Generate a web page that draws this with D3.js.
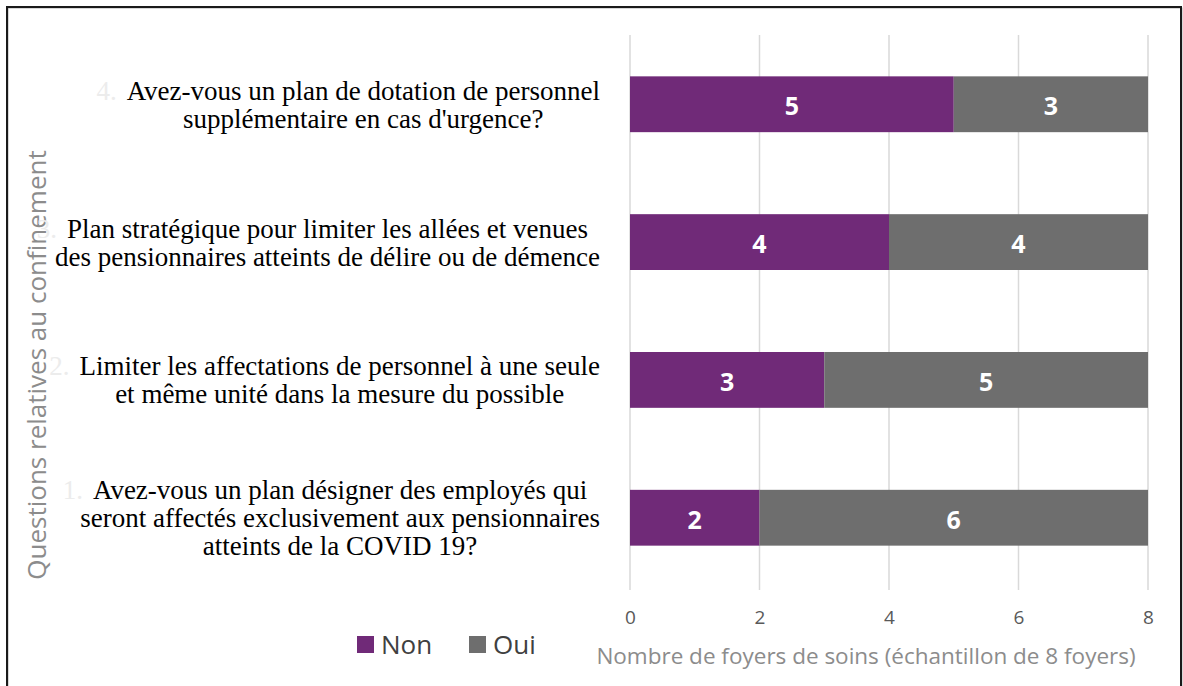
<!DOCTYPE html>
<html>
<head>
<meta charset="utf-8">
<script src="https://cdn.jsdelivr.net/npm/d3@7"></script>
<style>
	body { margin: 0; background: #fff; }
	svg { display: block; }
</style>
</head>
<body>
<div id="chart"></div>
<script>
// chart data, top to bottom
let questions = [
	["Avez-vous un plan de dotation de personnel", "supplémentaire en cas d'urgence?"],
	["Plan stratégique pour limiter les allées et venues", "des pensionnaires atteints de délire ou de démence"],
	["Limiter les affectations de personnel à une seule", "et même unité dans la mesure du possible"],
	["Avez-vous un plan désigner des employés qui", "seront affectés exclusivement aux pensionnaires", "atteints de la COVID 19?"]
];
let questionNums = ["4.", "3.", "2.", "1."];
let nonValues = [5, 4, 3, 2];
let ouiValues = [3, 4, 5, 6];
let seriesNames = ["Non", "Oui"];
let seriesColors = ["#702a78", "#6e6e6e"];
let xTicks = [0, 2, 4, 6, 8];

let W = 1183, H = 686;

let svg = d3.select("#chart").append("svg")
	.attr("width", W)
	.attr("height", H);

// frame
svg.append("rect")
	.attr("x", 8).attr("y", 8)
	.attr("width", 1174).attr("height", 700)
	.attr("fill", "none")
	.attr("stroke", "#b0b0b0")
	.attr("stroke-width", 1);
svg.append("rect")
	.attr("x", 7).attr("y", 7)
	.attr("width", 1174).attr("height", 700)
	.attr("fill", "none")
	.attr("stroke", "#1a1a1a")
	.attr("stroke-width", 2);

let plot = {left: 630, right: 1148, top: 35, bottom: 590};

let xScale = d3.scaleLinear()
	.domain([0, 8])
	.range([plot.left, plot.right]);

let yScale = d3.scaleBand()
	.domain(d3.range(questions.length))
	.range([35, 587])
	.paddingInner(0.595)
	.paddingOuter(0.3);

// grid lines
svg.append("g")
	.selectAll("line")
	.data(xTicks)
	.enter()
	.append("line")
	.attr("x1", d => xScale(d))
	.attr("x2", d => xScale(d))
	.attr("y1", plot.top)
	.attr("y2", plot.bottom)
	.attr("stroke", "#d9d9d9")
	.attr("stroke-width", 1.5);

// stacked bars
let rows = questions.map((q, i) => ({i: i, non: nonValues[i], oui: ouiValues[i]}));
let stack = d3.stack().keys(["non", "oui"])(rows);

let layers = svg.append("g")
	.selectAll("g")
	.data(stack)
	.enter()
	.append("g")
	.attr("fill", (d, k) => seriesColors[k]);

layers.selectAll("rect")
	.data(d => d)
	.enter()
	.append("rect")
	.attr("x", d => xScale(d[0]))
	.attr("y", d => yScale(d.data.i))
	.attr("width", d => xScale(d[1]) - xScale(d[0]))
	.attr("height", yScale.bandwidth());

layers.selectAll("text")
	.data(d => d)
	.enter()
	.append("text")
	.attr("x", d => (xScale(d[0]) + xScale(d[1])) / 2)
	.attr("y", d => yScale(d.data.i) + yScale.bandwidth() / 2 + 2)
	.attr("dy", "0.36em")
	.attr("text-anchor", "middle")
	.attr("fill", "#fff")
	.style("font-family", "'Open Sans', sans-serif")
	.style("font-weight", "bold")
	.style("font-size", "25px")
	.text(d => d[1] - d[0]);

// x axis tick labels
let xAxis = d3.axisBottom(xScale)
	.tickValues(xTicks)
	.tickSize(0)
	.tickPadding(0);

let xg = svg.append("g")
	.attr("transform", "translate(0,610)")
	.call(xAxis);
xg.select(".domain").remove();
xg.selectAll("text")
	.attr("fill", "#595959")
	.style("font-family", "'Open Sans', sans-serif")
	.style("font-size", "19px");

svg.append("text")
	.attr("x", 866)
	.attr("y", 664)
	.attr("text-anchor", "middle")
	.attr("fill", "#8c8c8c")
	.style("font-family", "'Open Sans', sans-serif")
	.style("font-size", "22.5px")
	.text("Nombre de foyers de soins (échantillon de 8 foyers)");

// y axis title
svg.append("text")
	.attr("transform", "translate(46,365)rotate(-90)")
	.attr("text-anchor", "middle")
	.attr("fill", "#8c8c8c")
	.style("font-family", "'Open Sans', sans-serif")
	.style("font-size", "26px")
	.text("Questions relatives au confinement");

// category labels
let lineH = 28;
questions.forEach((lines, i) => {
	let g = svg.append("g");
	let cy = yScale(i) + yScale.bandwidth() / 2;
	let y0 = cy - (lines.length - 1) * lineH / 2;
	let texts = lines.map((l, j) => g.append("text")
		.attr("y", y0 + j * lineH)
		.attr("dy", "0.35em")
		.attr("text-anchor", "middle")
		.attr("fill", "#000")
		.style("font-family", "'Liberation Serif', 'Times New Roman', serif")
		.style("font-size", "27px")
		.text(l));
	let num = g.append("text")
		.attr("y", y0)
		.attr("dy", "0.35em")
		.attr("text-anchor", "end")
		.attr("fill", "#ececec")
		.style("font-family", "'Liberation Serif', 'Times New Roman', serif")
		.style("font-size", "27px")
		.text(questionNums[i]);
	let widths = texts.map(t => t.node().getComputedTextLength());
	let maxW = d3.max(widths);
	let cx = 600 - maxW / 2;
	texts.forEach(t => t.attr("x", cx));
	num.attr("x", cx - widths[0] / 2 - 10);
});

// legend
let legend = svg.append("g")
	.selectAll("g")
	.data(seriesNames)
	.enter()
	.append("g")
	.attr("transform", (d, k) => "translate(" + (357 + k * 112) + ",636)");

legend.append("rect")
	.attr("width", 17)
	.attr("height", 17)
	.attr("fill", (d, k) => seriesColors[k]);

legend.append("text")
	.attr("x", 24)
	.attr("y", 9)
	.attr("dy", "0.36em")
	.attr("fill", "#404040")
	.style("font-family", "'Open Sans', sans-serif")
	.style("font-size", "26px")
	.text(d => d);
</script>
</body>
</html>
